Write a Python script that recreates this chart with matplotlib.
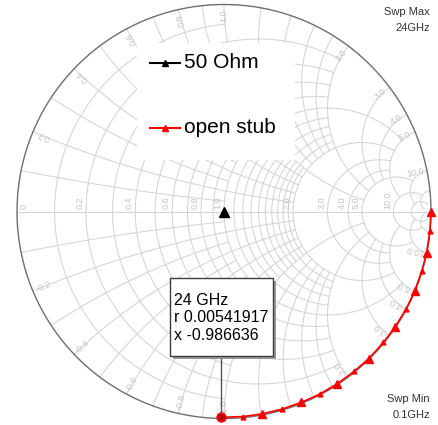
import numpy as np
import matplotlib
matplotlib.use("Agg")
from matplotlib import pyplot as plt
from matplotlib.patches import Rectangle

W, H = 439, 425

# open stub sweep, 0.1 GHz .. 24 GHz (reflection angle in degrees, |S11|)
stub_angle_deg = [0.0, -5.3, -11.5, -16.8, -22.7, -28.2, -34.0, -39.4,
                  -45.5, -50.8, -56.8, -62.4, -68.0, -73.5, -79.3, -84.6]
stub_mag = [1.0, 0.999, 0.999, 0.998, 0.998, 0.998, 0.997, 0.997,
            0.997, 0.996, 0.996, 0.996, 0.995, 0.995, 0.995, 0.995]

# marker readout at the top of the sweep
marker_freq = "24 GHz"
marker_r = 0.00541917
marker_x = -0.986636

# 50 ohm reference load
ref_z = [1.0 + 0.0j]

# label values for the chart grid
r_labels = [0.0, 0.2, 0.4, 0.6, 0.8, 1.0, 2.0, 3.0, 4.0, 5.0, 10.0]
x_labels = [0.2, 0.4, 0.6, 0.8, 1.0, 2.0, 3.0, 4.0, 5.0, 10.0]

# (value, limit) pairs: constant-r circles drawn for |x| <= limit,
# constant-x arcs drawn for r <= limit
r_grid = [(0.1, 1), (0.2, 2), (0.3, 1), (0.4, 2), (0.5, 1), (0.6, 2),
          (0.7, 1), (0.8, 2), (0.9, 1), (1.0, 5), (1.1, 1), (1.2, 2),
          (1.3, 1), (1.4, 2), (1.5, 1), (1.6, 2), (1.7, 1), (1.8, 2),
          (1.9, 1), (2.0, 5), (3.0, 5), (4.0, 5), (5.0, 10), (10.0, 20),
          (20.0, 50)]
x_grid = [(0.1, 1), (0.2, 2), (0.3, 1), (0.4, 2), (0.5, 1), (0.6, 2),
          (0.7, 1), (0.8, 2), (0.9, 1), (1.0, 5), (1.2, 2), (1.4, 2),
          (1.6, 2), (1.8, 2), (2.0, 5), (3.0, 5), (4.0, 5), (5.0, 10),
          (10.0, 20), (20.0, 50)]

GRID = "#d4d4d4"
LABEL = "#c4c4c4"
FONT = "Liberation Sans"


def gamma(z):
    z = np.asarray(z, dtype=complex)
    return (z - 1) / (z + 1)


def warp(lo, hi, n=300):
    return np.tan(np.linspace(np.arctan(lo), np.arctan(hi), n))


def fig_xy(x, y):
    """pixel position (from top-left) -> figure fraction"""
    return x / W, 1 - y / H


fig = plt.figure(figsize=(W / 100, H / 100), dpi=100)
ax = fig.add_axes([0, 0, 1, 1])
cx, cy, R = 224.0, 211.5, 207.0
ax.set_xlim(-cx / R, (W - cx) / R)
ax.set_ylim(-(H - cy) / R, cy / R)
ax.axis("off")

# grid
for r, lim in r_grid:
    g = gamma(r + 1j * warp(-lim, lim, 600))
    ax.plot(g.real, g.imag, color=GRID, lw=0.75, zorder=1)
for x, lim in x_grid:
    for s in (1, -1):
        g = gamma(warp(0, lim) + 1j * s * x)
        ax.plot(g.real, g.imag, color=GRID, lw=0.75, zorder=1)
ax.plot([-1, 1], [0, 0], color=GRID, lw=0.75, zorder=1)
t = np.linspace(0, 2 * np.pi, 720)
ax.plot(np.cos(t), np.sin(t), color="#6e6e6e", lw=1.0, zorder=2)

# grid labels
for r in r_labels:
    gx = gamma(r).real
    if r == 0:
        ax.text(gx + 0.015, 0.012, "0", rotation=90, ha="left", va="bottom",
                fontsize=6.5, color=LABEL, family=FONT)
    else:
        ax.text(gx - 0.006, 0.012, f"{r:.1f}", rotation=90, ha="right",
                va="bottom", fontsize=6.5, color=LABEL, family=FONT)
for x in x_labels:
    for s in (1, -1):
        g = gamma(1j * s * x)
        ang = np.degrees(np.angle(g))
        p = 0.945 * g
        rot = ang if s > 0 else ang + 180
        ax.text(p.real, p.imag, f"{s * x:.1f}", rotation=rot,
                rotation_mode="anchor", ha="center", va="center",
                fontsize=6.5, color=LABEL, family=FONT)

# open stub trace
g_stub = np.array(stub_mag) * np.exp(1j * np.radians(stub_angle_deg))
g_end = gamma(marker_r + 1j * marker_x)
g_all = np.append(g_stub, g_end)
ax.plot(g_all.real, g_all.imag, color="#ff0000", lw=1.2, zorder=4)
ax.plot(g_stub.real[::2], g_stub.imag[::2], ls="none", marker="^",
        ms=5.5, color="#ff0000", zorder=5)
ax.plot(g_stub.real[1::2], g_stub.imag[1::2], ls="none", marker="^",
        ms=3.5, color="#ff0000", zorder=5)
ax.plot(g_end.real, g_end.imag, ls="none", marker="o", ms=6.5,
        mfc="#c00000", mec="#ff0000", zorder=6)

# 50 ohm point
g_ref = gamma(ref_z)
ax.plot(g_ref.real, g_ref.imag, ls="none", marker="^", ms=7,
        color="black", zorder=5)

# legend panel
fig.add_artist(Rectangle(fig_xy(137, 160), 158 / W, 117 / H,
                         transform=fig.transFigure, fc="white", ec="none",
                         zorder=2))
for y, color, name in [(63, "black", "50 Ohm"), (127.5, "#ff0000", "open stub")]:
    x0, y0 = fig_xy(150, y)
    x1, _ = fig_xy(180, y)
    xm, _ = fig_xy(165, y)
    fig.add_artist(plt.Line2D([x0, x1], [y0, y0], color=color, lw=1.5,
                              transform=fig.transFigure, zorder=3))
    fig.add_artist(plt.Line2D([xm], [y0], color=color, marker="^", ms=4,
                              transform=fig.transFigure, zorder=3))
    fig.text(*fig_xy(184, y), name, fontsize=15, family=FONT,
             ha="left", va="center", zorder=3)

# marker readout box with drop shadow
fig.add_artist(Rectangle(fig_xy(173, 359), 103 / W, 78 / H,
                         transform=fig.transFigure, fc="#9a9a9a", ec="none",
                         zorder=6))
fig.add_artist(Rectangle(fig_xy(170, 356), 103 / W, 78 / H,
                         transform=fig.transFigure, fc="white",
                         ec="#3c3c3c", lw=1.0, zorder=7))
readout = [marker_freq, f"r {marker_r:.8f}".rstrip("0"), f"x {marker_x:.6f}"]
for i, line in enumerate(readout):
    fig.text(*fig_xy(174, 305 + 17.5 * i), line, fontsize=11.5, family=FONT,
             ha="left", va="baseline", zorder=8)
lx, _ = fig_xy(221, 0)
_, ly0 = fig_xy(0, 356)
_, ly1 = fig_xy(0, 414)
fig.add_artist(plt.Line2D([lx, lx], [ly0, ly1], color="#555555", lw=1.0,
                          transform=fig.transFigure, zorder=5))

# sweep range
for y, s in [(15, "Swp Max"), (31, "24GHz"), (402.5, "Swp Min"), (418, "0.1GHz")]:
    fig.text(*fig_xy(430, y), s, fontsize=8, family=FONT, color="#333333",
             ha="right", va="baseline")

fig.savefig("out.png", dpi=100)
